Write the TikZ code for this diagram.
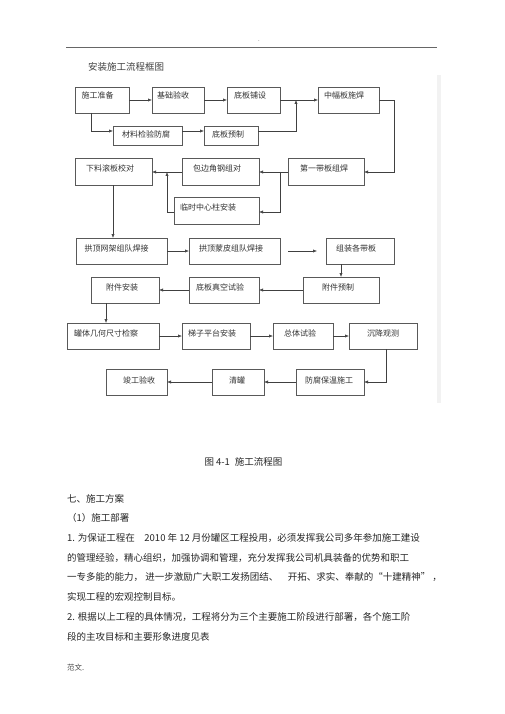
\documentclass[tikz,border=0pt]{standalone}
\usepackage{fontspec}
\setmainfont{Noto Sans CJK SC}
\usetikzlibrary{arrows.meta}
\newcommand{\bx}[5]{\node[box,minimum width={#4-#2},minimum height={#5-#3}] (#1) at ({(#2+#4)/2},{(#3+#5)/2}) {};}
\newcommand{\lb}[4]{\node[lbl] (#1) at (#2,#3) {#4};}
\begin{document}
\begin{tikzpicture}[x=1pt,y=-1pt,
  box/.style={draw=black!65,line width=0.6pt,inner sep=0pt,outer sep=0pt},
  lbl/.style={font=\fontsize{8}{9}\selectfont,text=black!80,inner sep=0pt},
  arr/.style={draw=black!75,line width=0.6pt,-{Latex[length=4pt,width=3.2pt]}},
  body/.style={anchor=west,font=\fontsize{9.5}{11}\selectfont,inner sep=0pt,text=black!85}]
\useasboundingbox[fill=white] (0,0) rectangle (505,714);
% header
\draw[black!60,line width=0.5pt] (66,47) -- (437,47);
\node[inner sep=0pt,font=\fontsize{6}{7}\selectfont,text=black!70] (dot) at (259,41) {.};
\fill[black!5] (437,75) rectangle (441,403);
\node[body,text=black!75] (title) at (88,67) {安装施工流程框图};
% boxes
\bx{a1}{75}{87}{129}{113}
\bx{a2}{152}{87}{204}{113}
\bx{a3}{227}{87}{280}{113}
\bx{a4}{318}{87}{379}{113}
\bx{b1}{113}{126}{182}{145}
\bx{b2}{204}{126}{258}{145}
\bx{c1}{75}{158}{152}{185}
\bx{c2}{182}{158}{259}{185}
\bx{c3}{288}{158}{364}{185}
\bx{c4}{174}{197}{259}{224}
\bx{d1}{76}{238}{167}{264}
\bx{d2}{189}{238}{280}{264}
\bx{d3}{326}{238}{394}{264}
\bx{e1}{91}{277}{159}{303}
\bx{e2}{189}{277}{259}{303}
\bx{e3}{303}{277}{379}{303}
\bx{f1}{67}{323}{159}{349}
\bx{f2}{182}{323}{250}{349}
\bx{f3}{273}{323}{333}{349}
\bx{f4}{349}{323}{417}{349}
\bx{g1}{106}{369}{167}{395}
\bx{g2}{212}{369}{264}{395}
\bx{g3}{296}{369}{364}{395}
% labels
\lb{a1t}{97.5}{95}{施工准备}
\lb{a2t}{173}{95}{基础验收}
\lb{a3t}{250}{95}{底板铺设}
\lb{a4t}{344}{95}{中幅板施焊}
\lb{b1t}{146}{134}{材料检验防腐}
\lb{b2t}{228}{134}{底板预制}
\lb{c1t}{110}{168}{下料滚板校对}
\lb{c2t}{217}{168}{包边角钢组对}
\lb{c3t}{324}{168}{第一带板组焊}
\lb{c4t}{208}{207}{临时中心柱安装}
\lb{d1t}{116.5}{248}{拱顶网架组队焊接}
\lb{d2t}{231}{248}{拱顶蒙皮组队焊接}
\lb{d3t}{356}{248}{组装各带板}
\lb{e1t}{122}{287}{附件安装}
\lb{e2t}{220}{287}{底板真空试验}
\lb{e3t}{338}{287}{附件预制}
\lb{f1t}{106}{333}{罐体几何尺寸检察}
\lb{f2t}{212}{333}{梯子平台安装}
\lb{f3t}{300}{333}{总体试验}
\lb{f4t}{383}{333}{沉降观测}
\lb{g1t}{139}{380}{竣工验收}
\lb{g2t}{237}{380}{清罐}
\lb{g3t}{329}{380}{防腐保温施工}
% connectors
\coordinate (j1) at (296,100);
\coordinate (k1) at (296,131);
\coordinate (k2) at (91,131);
\coordinate (k3) at (394,100);
\coordinate (k4) at (394,172);
\coordinate (k5) at (280,172);
\coordinate (k6) at (280,212);
\coordinate (k7) at (167,212);
\coordinate (k8) at (167,172);
\coordinate (k9) at (113,200);
\coordinate (k10) at (341,270);
\coordinate (k11) at (106,310);
\coordinate (k12) at (386,382);
\draw[arr] (a1) -- (a2);
\draw[arr] (a2) -- (a3);
\draw[arr] (a3) -- (a4);
\draw[arr] (b2.east |- k1) -- (k1) -- (j1);
\draw[arr] (a1.south -| k2) -- (k2) -- (b1.west |- k2);
\draw[arr] (b1.east |- k2) -- (b2.west |- k2);
\draw[arr] (a4.east |- k3) -- (k3) -- (k4) -- (c3.east |- k4);
\draw[arr] (c3.west |- k4) -- (c2.east |- k4);
\draw[arr] (k5) -- (k6) -- (c4.east |- k6);
\draw[arr] (c4.west |- k7) -- (k7) -- (k8);
\draw[arr] (c2.west |- k4) -- (c1.east |- k4);
\draw[arr] (c1.south -| k9) -- (d1.north -| k9);
\draw[arr] (d1) -- (d2);
\draw[arr,shorten <=8pt,shorten >=9pt] (d2) -- (d3);
\draw[arr] (d3.south -| k10) -- (e3.north -| k10);
\draw[arr] (e3) -- (e2);
\draw[arr] (e2) -- (e1);
\draw[arr] (e1.south -| k11) -- (f1.north -| k11);
\draw[arr] (f1) -- (f2);
\draw[arr] (f2) -- (f3);
\draw[arr] (f3) -- (f4);
\draw[arr] (f4.south -| k12) -- (k12) -- (g3.east |- k12);
\draw[arr] (g3) -- (g2);
\draw[arr] (g2) -- (g1);
% text
\node[body,anchor=center] (cap) at (243.5,462) {图 4-1\hspace{5pt}施工流程图};
\node[body] (l1) at (67,499) {七、施工方案};
\node[body] (l2) at (67,518) {（1）施工部署};
\node[body] (l3) at (67,538) {1. 为保证工程在\quad 2010 年 12 月份罐区工程投用，必须发挥我公司多年参加施工建设};
\node[body] (l4) at (67,558) {的管理经验，精心组织，加强协调和管理，充分发挥我公司机具装备的优势和职工};
\node[body] (l5) at (67,577) {一专多能的能力，\ 进一步激励广大职工发扬团结、\quad 开拓、求实、奉献的“十建精神” ，};
\node[body] (l6) at (67,597) {实现工程的宏观控制目标。};
\node[body] (l7) at (67,617) {2. 根据以上工程的具体情况，工程将分为三个主要施工阶段进行部署，各个施工阶};
\node[body] (l8) at (67,637) {段的主攻目标和主要形象进度见表};
\node[body,font=\fontsize{7.5}{9}\selectfont,text=black!70] (l9) at (67,668) {范文.};
\end{tikzpicture}
\end{document}
